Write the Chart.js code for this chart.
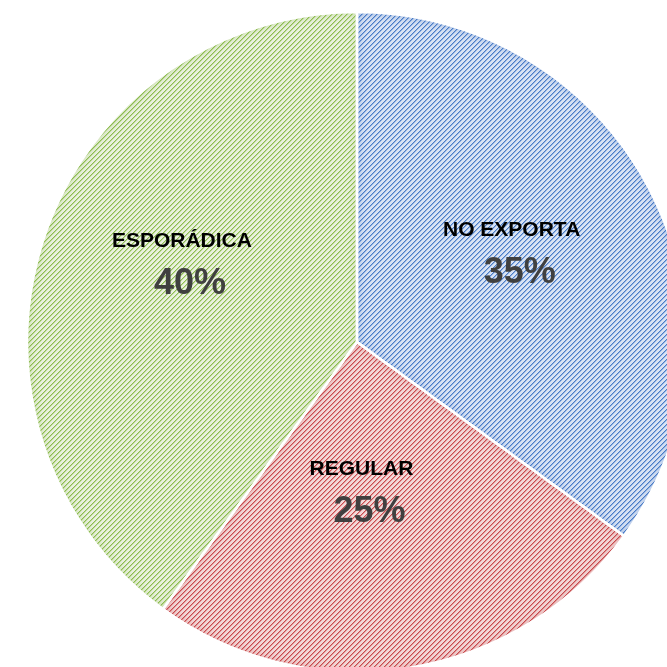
<!DOCTYPE html>
<html><head><meta charset="utf-8">
<script src="https://cdn.jsdelivr.net/npm/chart.js@4/dist/chart.umd.min.js"></script>
<style>
html,body{margin:0;padding:0;overflow:hidden;background:#fff;width:667px;height:667px}
#wrap{position:absolute;left:0;top:0;width:714px;height:684px}
</style></head><body>
<div id="wrap"><canvas id="c" width="714" height="684"></canvas></div>
<script>
const categories = ['NO EXPORTA', 'REGULAR', 'ESPORÁDICA'];
const shares = [35, 25, 40];
const pctLabels = ['35%', '25%', '40%'];
const stripeColors = ['#4a7cc8', '#c94b4e', '#8dbd4f'];
const backColors = ['#d9e3f4', '#f3d9d9', '#eaf1df'];
const labelShift = [[-6, -8.5], [-20.5, -36], [4.7, -24.3]];

const canvas = document.getElementById('c');
const ctx = canvas.getContext('2d');

function makePattern(fg, bg) {
  const n = 5;
  const t = document.createElement('canvas');
  t.width = n; t.height = n;
  const g = t.getContext('2d');
  g.fillStyle = bg; g.fillRect(0, 0, n, n);
  g.fillStyle = fg;
  for (let x = 0; x < n; x++) {
    for (let y = 0; y < n; y++) {
      const k = (x + y) % n;
      if (k === 0) { g.globalAlpha = 1; g.fillRect(x, y, 1, 1); }
      else if (k === 1) { g.globalAlpha = 0.45; g.fillRect(x, y, 1, 1); }
    }
  }
  return ctx.createPattern(t, 'repeat');
}
function hexA(h, a) {
  const n = parseInt(h.slice(1), 16);
  return `rgba(${(n >> 16) & 255},${(n >> 8) & 255},${n & 255},${a})`;
}

const patterns = stripeColors.map((c, i) => makePattern(c, backColors[i]));

const finishPlugin = {
  id: 'finish',
  afterDatasetsDraw(chart) {
    const c = chart.ctx;
    const meta = chart.getDatasetMeta(0);
    meta.data.forEach((arc, i) => {
      const p = arc.getProps(['x', 'y', 'startAngle', 'endAngle', 'outerRadius'], true);
      c.save();
      c.beginPath(); c.moveTo(p.x, p.y); c.arc(p.x, p.y, p.outerRadius, p.startAngle, p.endAngle); c.closePath();
      c.clip();
      c.beginPath();
      c.rect(p.x - 3000, p.y - 3000, 6000, 6000);
      c.moveTo(p.x, p.y); c.arc(p.x, p.y, p.outerRadius, p.startAngle, p.endAngle); c.closePath();
      c.shadowColor = hexA(stripeColors[i], 0.5);
      c.shadowBlur = 10;
      c.fillStyle = '#000';
      c.fill('evenodd');
      c.restore();
    });
    meta.data.forEach((arc) => {
      const p = arc.getProps(['x', 'y', 'startAngle', 'endAngle', 'outerRadius'], true);
      c.save();
      c.beginPath(); c.moveTo(p.x, p.y); c.arc(p.x, p.y, p.outerRadius, p.startAngle, p.endAngle); c.closePath();
      c.strokeStyle = '#fff'; c.lineWidth = 2.5; c.lineJoin = 'round';
      c.stroke();
      c.restore();
    });
    meta.data.forEach((arc, i) => {
      const p = arc.getProps(['x', 'y', 'startAngle', 'endAngle', 'outerRadius'], true);
      const mid = (p.startAngle + p.endAngle) / 2;
      const r = p.outerRadius * 0.56;
      const cx = p.x + Math.cos(mid) * r + labelShift[i][0];
      const cy = p.y + Math.sin(mid) * r + labelShift[i][1];
      c.save();
      c.textAlign = 'center';
      c.textBaseline = 'alphabetic';
      c.fillStyle = '#000000';
      c.font = 'bold 21px "Liberation Sans", Arial, sans-serif';
      c.fillText(categories[i], cx - 4, cy - 21 + 0.358 * 21);
      c.fillStyle = '#404040';
      c.font = 'bold 36px "Liberation Sans", Arial, sans-serif';
      c.fillText(pctLabels[i], cx + 4, cy + 21 + 0.358 * 36);
      c.restore();
    });
  }
};

new Chart(canvas, {
  type: 'pie',
  data: {
    labels: categories,
    datasets: [{
      data: shares,
      backgroundColor: patterns,
      borderColor: '#ffffff',
      borderWidth: 2
    }]
  },
  options: {
    responsive: false,
    animation: false,
    radius: 330,
    layout: { padding: 0 },
    plugins: { legend: { display: false }, tooltip: { enabled: false } }
  },
  plugins: [finishPlugin]
});
</script>
</body></html>
